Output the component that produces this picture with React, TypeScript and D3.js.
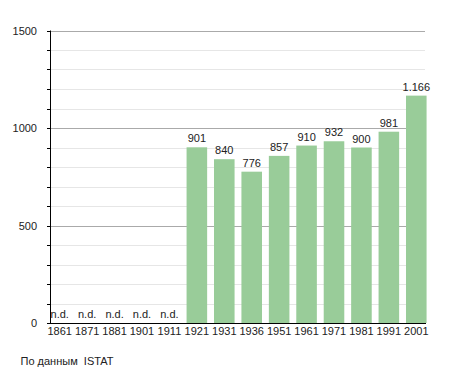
import React from "react";
import * as d3 from "d3";

const years = ["1861", "1871", "1881", "1901", "1911", "1921", "1931", "1936", "1951", "1961", "1971", "1981", "1991", "2001"];
const population: (number | null)[] = [null, null, null, null, null, 901, 840, 776, 857, 910, 932, 900, 981, 1166];
const majorTicks = [0, 500, 1000, 1500];
const minorTicks = d3.range(0, 1501, 100);
const source = "По данным  ISTAT";

const fmt = (v: number) => (v >= 1000 ? d3.format(",")(v).replace(",", ".") : String(v));

export default function App() {
  const W = 455, H = 373;
  const x = d3.scaleBand<string>().domain(years).range([46, 430]).paddingInner(0.25).paddingOuter(0.125);
  const y = d3.scaleLinear().domain([0, 1500]).range([323, 30.5]);
  const axisX = 50;
  const font = "'Liberation Sans', Arial, sans-serif";
  return (
    <svg width={W} height={H} style={{ position: "absolute", left: 0, top: 0 }} fontFamily={font}>
      <rect width={W} height={H} fill="#fff" />
      {minorTicks.map((t) => (
        <g key={"m" + t}>
          <line x1={axisX} x2={425} y1={Math.round(y(t)) + 0.5} y2={Math.round(y(t)) + 0.5} stroke={majorTicks.includes(t) ? "#aaaaaa" : "#e6e6e6"} strokeWidth={1} />
          <line x1={axisX - 3} x2={axisX} y1={Math.round(y(t)) + 0.5} y2={Math.round(y(t)) + 0.5} stroke="#000" strokeWidth={1} />
        </g>
      ))}
      {years.map((yr, i) => {
        const v = population[i];
        const cx = (x(yr) as number) + x.bandwidth() / 2;
        if (v == null) {
          return (
            <text key={yr} x={cx} y={y(0) - 5} textAnchor="middle" fontSize={11} fill="#222">n.d.</text>
          );
        }
        return (
          <g key={yr}>
            <rect x={x(yr)} y={y(v)} width={x.bandwidth()} height={y(0) - y(v)} fill="#99cc99" />
            <text x={cx} y={y(v) - 5} textAnchor="middle" fontSize={11} fill="#222">{fmt(v)}</text>
          </g>
        );
      })}
      <line x1={axisX + 0.5} x2={axisX + 0.5} y1={y(1500)} y2={y(0) + 1} stroke="#000" strokeWidth={1} />
      <line x1={axisX} x2={426} y1={Math.round(y(0)) + 0.5} y2={Math.round(y(0)) + 0.5} stroke="#000" strokeWidth={1} />
      {majorTicks.map((t) => (
        <text key={"l" + t} x={37} y={y(t) + 4} textAnchor="end" fontSize={11} fill="#222">{t}</text>
      ))}
      {years.map((yr) => (
        <text key={"x" + yr} x={(x(yr) as number) + x.bandwidth() / 2} y={334.5} textAnchor="middle" fontSize={11} fill="#222">{yr}</text>
      ))}
      <text x={20.5} y={365} fontSize={11} fill="#222" style={{ whiteSpace: "pre" }}>{source}</text>
    </svg>
  );
}
